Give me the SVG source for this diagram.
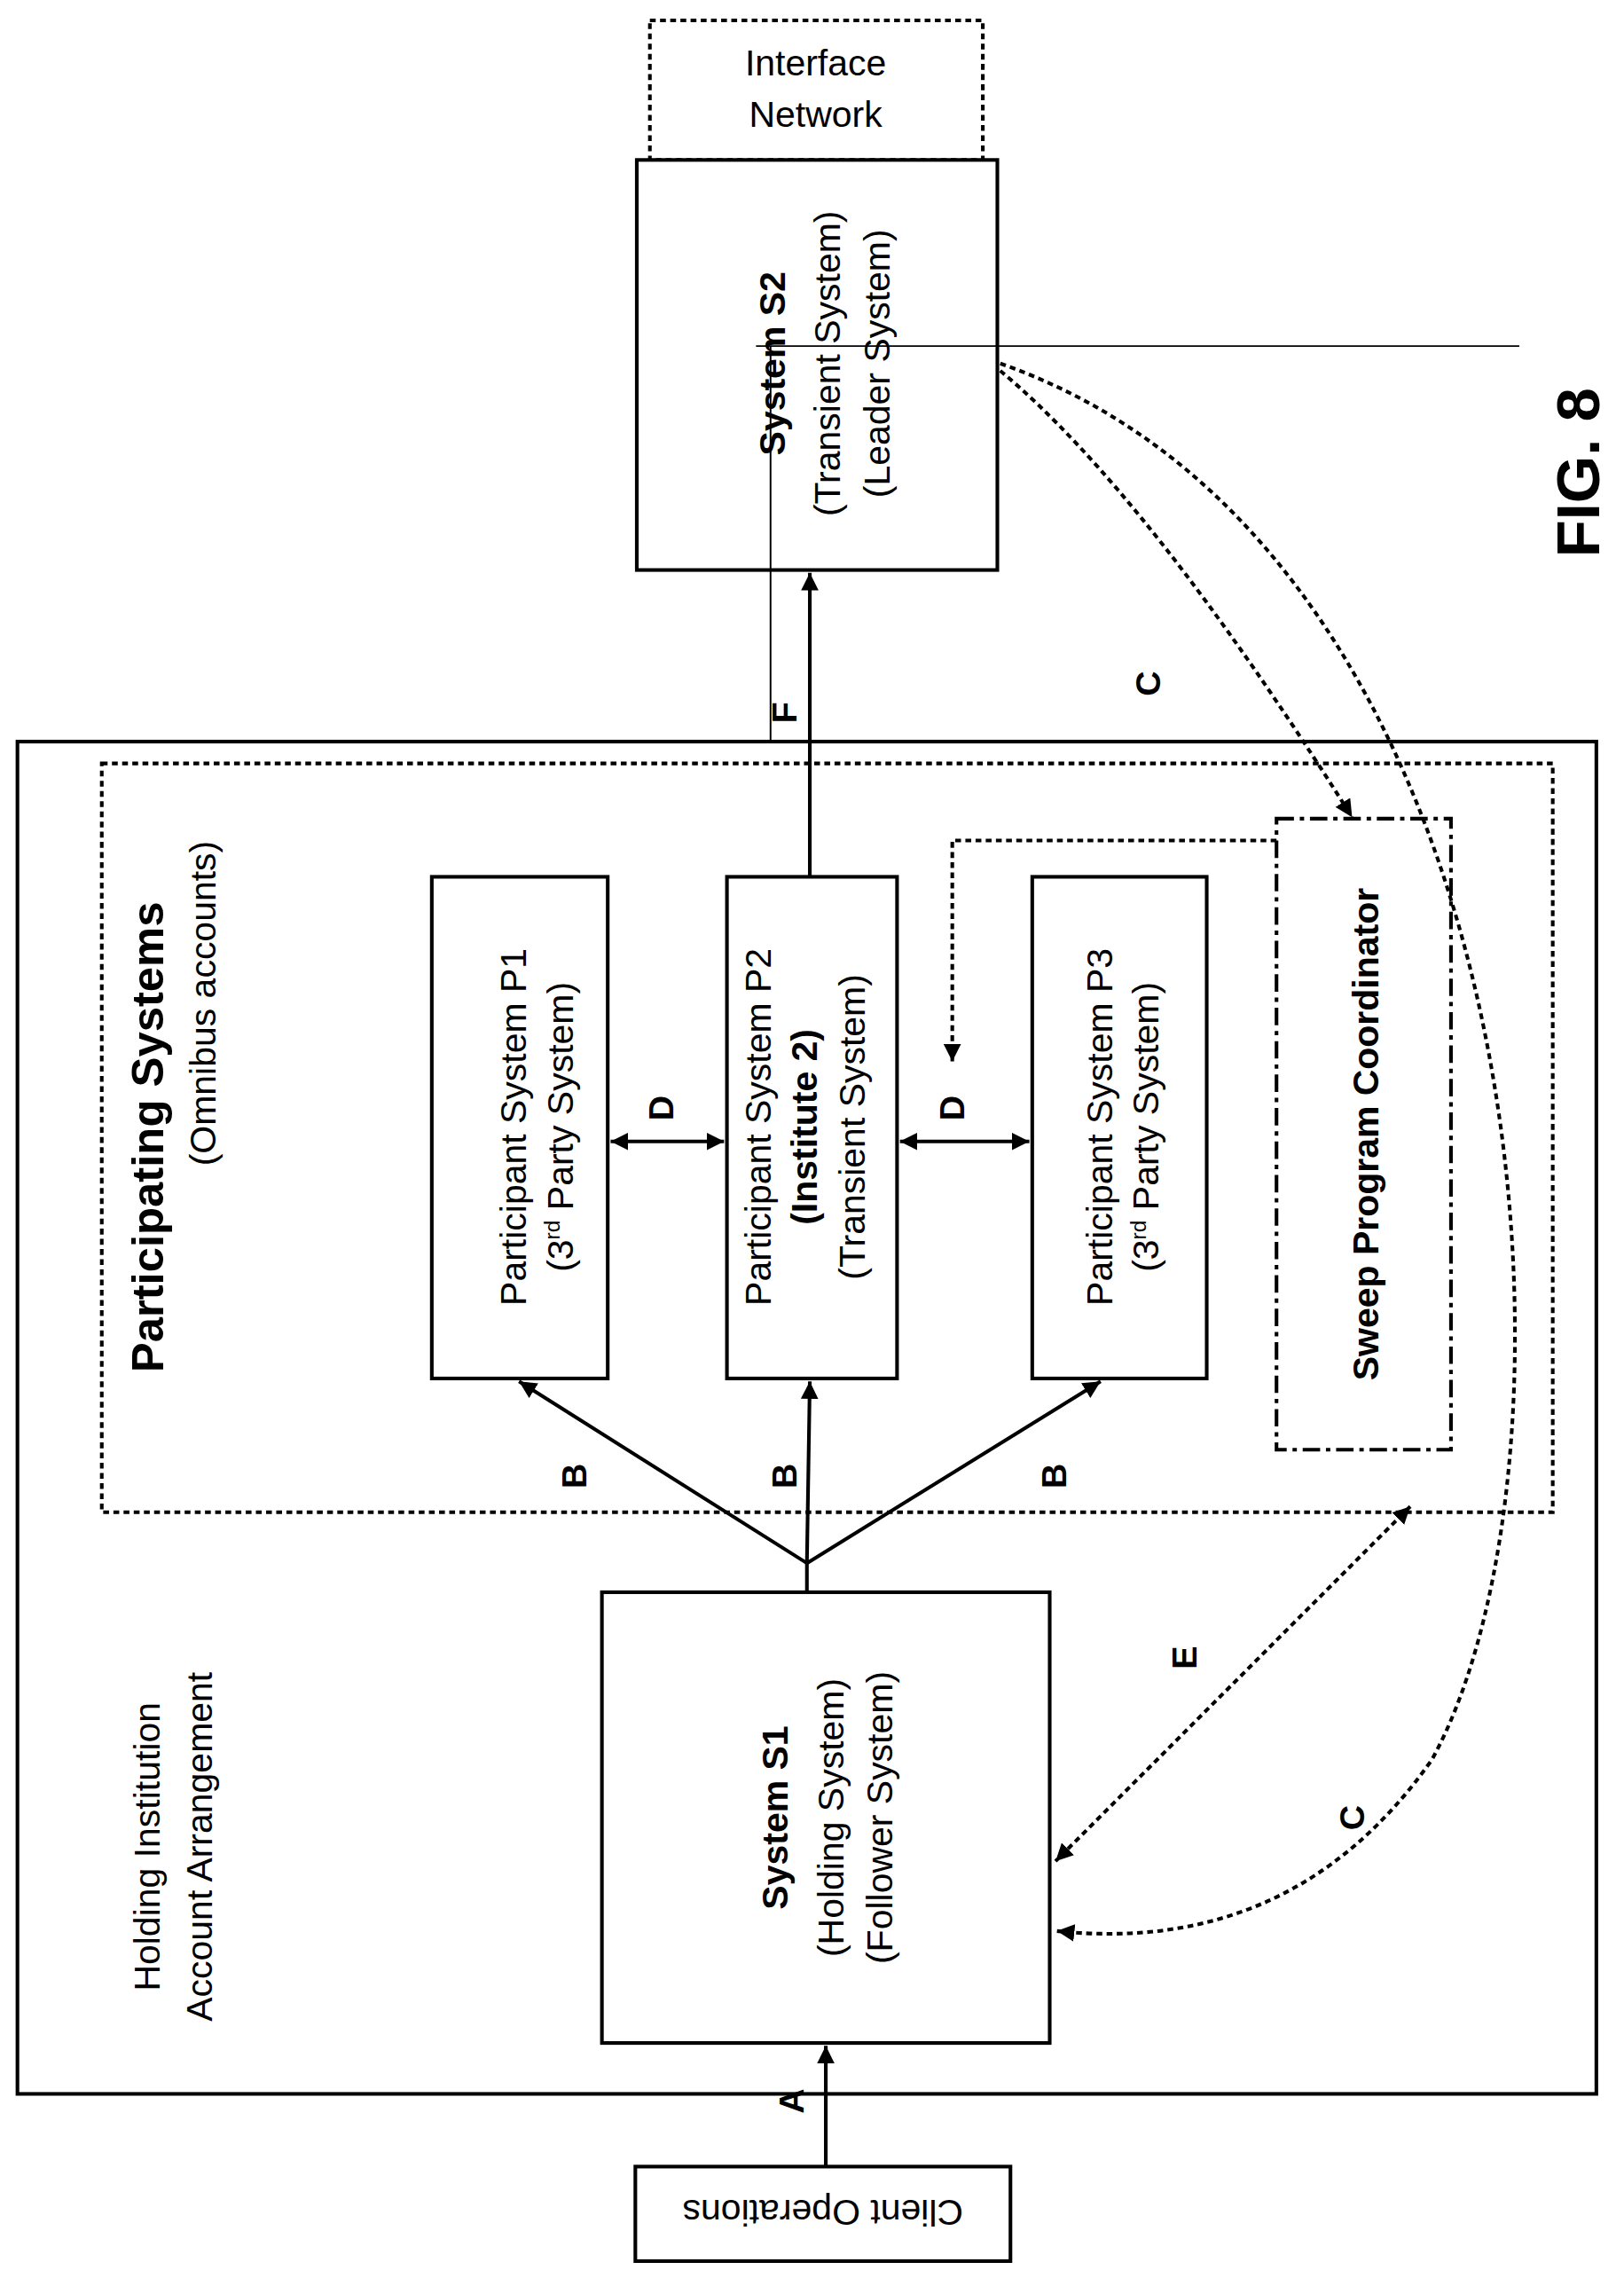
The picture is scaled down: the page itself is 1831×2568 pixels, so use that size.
<svg xmlns="http://www.w3.org/2000/svg" width="1831" height="2568" viewBox="0 0 1831 2568">
<defs>
<style>
text{font-family:"Liberation Sans",Arial,sans-serif;fill:#000}
.t{font-size:25px}
.b{font-weight:bold}
.box{fill:#fff;stroke:#000;stroke-width:2.5}
.ln{fill:none;stroke:#000;stroke-width:2.5}
.dot{fill:none;stroke:#000;stroke-width:2.5;stroke-dasharray:4 3}
</style>
<marker id="ah" viewBox="0 0 10 10" refX="10" refY="5" markerWidth="12" markerHeight="12" markerUnits="userSpaceOnUse" orient="auto-start-reverse"><path d="M0,0L10,5L0,10z" fill="#000"/></marker>
</defs>
<rect width="1831" height="2568" fill="#fff"/>
<g transform="scale(1.6392)">
<g id="outer"><rect x="12" y="510" width="1086" height="930" class="box" fill="none"/></g>
<g id="participating"><rect x="70" y="525" width="998" height="515" class="dot" stroke-dasharray="5 3"/>
<text class="b" font-size="31" transform="translate(112,782) rotate(-90)" text-anchor="middle">Participating Systems</text>
<text class="t" transform="translate(148,690) rotate(-90)" text-anchor="middle">(Omnibus accounts)</text></g>
<g id="holding"><text class="t" transform="translate(110,1270) rotate(-90)" text-anchor="middle">Holding Institution</text>
<text class="t" transform="translate(146,1270) rotate(-90)" text-anchor="middle">Account Arrangement</text></g>
<g id="iface"><rect x="447" y="14" width="229" height="96" class="dot" stroke-dasharray="5 3"/>
<text class="t" x="561" y="52" text-anchor="middle">Interface</text><text class="t" x="561" y="87" text-anchor="middle">Network</text></g>
<g id="s2"><rect x="438" y="110" width="248" height="282" class="box"/>
<text class="t b" transform="translate(540,250) rotate(-90)" text-anchor="middle">System S2</text>
<text class="t" transform="translate(578,250) rotate(-90)" text-anchor="middle">(Transient System)</text>
<text class="t" transform="translate(612,250) rotate(-90)" text-anchor="middle">(Leader System)</text></g>
<g id="p1"><rect x="297" y="603" width="121" height="345" class="box"/>
<text class="t" transform="translate(362,775) rotate(-90)" text-anchor="middle">Participant System P1</text>
<text class="t" transform="translate(394,775) rotate(-90)" text-anchor="middle">(3<tspan font-size="15" dy="-9">rd</tspan><tspan dy="9"> Party System)</tspan></text></g>
<g id="p2"><rect x="500" y="603" width="117" height="345" class="box"/>
<text class="t" transform="translate(530,775) rotate(-90)" text-anchor="middle">Participant System P2</text>
<text class="t b" transform="translate(562,775) rotate(-90)" text-anchor="middle">(Institute 2)</text>
<text class="t" transform="translate(595,775) rotate(-90)" text-anchor="middle">(Transient System)</text></g>
<g id="p3"><rect x="710" y="603" width="120" height="345" class="box"/>
<text class="t" transform="translate(765,775) rotate(-90)" text-anchor="middle">Participant System P3</text>
<text class="t" transform="translate(797,775) rotate(-90)" text-anchor="middle">(3<tspan font-size="15" dy="-9">rd</tspan><tspan dy="9"> Party System)</tspan></text></g>
<g id="sweep"><rect x="878" y="563" width="120" height="434" class="ln" stroke-dasharray="12 4 3 4"/>
<text class="t b" transform="translate(948,780) rotate(-90)" text-anchor="middle">Sweep Program Coordinator</text></g>
<g id="s1"><rect x="414" y="1095" width="308" height="310" class="box"/>
<text class="t b" transform="translate(542,1250) rotate(-90)" text-anchor="middle">System S1</text>
<text class="t" transform="translate(580,1250) rotate(-90)" text-anchor="middle">(Holding System)</text>
<text class="t" transform="translate(614,1250) rotate(-90)" text-anchor="middle">(Follower System)</text></g>
<g id="client"><rect x="437" y="1490" width="258" height="65" class="box"/>
<text class="t" transform="translate(566,1513) rotate(180)" text-anchor="middle">Client Operations</text></g>
<g id="connectors">
<line x1="568" y1="1490" x2="568" y2="1407" class="ln" marker-end="url(#ah)"/>
<polyline points="555,1095 555,1075" class="ln"/>
<line x1="555" y1="1075" x2="357" y2="950" class="ln" marker-end="url(#ah)"/>
<line x1="555" y1="1075" x2="557" y2="950" class="ln" marker-end="url(#ah)"/>
<line x1="555" y1="1075" x2="757" y2="950" class="ln" marker-end="url(#ah)"/>
<line x1="557" y1="603" x2="557" y2="394" class="ln" marker-end="url(#ah)"/>
<line x1="420" y1="785" x2="498" y2="785" class="ln" marker-start="url(#ah)" marker-end="url(#ah)"/>
<line x1="619" y1="785" x2="708" y2="785" class="ln" marker-start="url(#ah)" marker-end="url(#ah)"/>
<line x1="520" y1="238" x2="1045" y2="238" stroke="#000" stroke-width="1.2"/>
<line x1="530" y1="238" x2="530" y2="510" stroke="#000" stroke-width="1.2"/>
<polyline points="878,578 655,578 655,730" class="dot" marker-end="url(#ah)"/>
<path d="M688,255 Q790,340 930,562" class="dot" marker-end="url(#ah)"/>
<path d="M688,250 C1060,380 1100,1000 985,1210 Q890,1345 727,1328" class="dot" marker-end="url(#ah)"/>
<line x1="970" y1="1036" x2="726" y2="1280" class="dot" marker-start="url(#ah)" marker-end="url(#ah)"/>
</g>
<g id="labels" font-size="24" font-weight="bold">
<text transform="translate(553,1445) rotate(-90)" text-anchor="middle">A</text>
<text transform="translate(403,1015) rotate(-90)" text-anchor="middle">B</text>
<text transform="translate(548,1015) rotate(-90)" text-anchor="middle">B</text>
<text transform="translate(733,1015) rotate(-90)" text-anchor="middle">B</text>
<text transform="translate(463,762) rotate(-90)" text-anchor="middle">D</text>
<text transform="translate(663,762) rotate(-90)" text-anchor="middle">D</text>
<text transform="translate(798,470) rotate(-90)" text-anchor="middle">C</text>
<text transform="translate(938,1250) rotate(-90)" text-anchor="middle">C</text>
<text transform="translate(823,1140) rotate(-90)" text-anchor="middle">E</text>
<text transform="translate(548,490) rotate(-90)" text-anchor="middle">F</text>
<text font-size="42" transform="translate(1100,325) rotate(-90)" text-anchor="middle">FIG. 8</text>
</g>
</g>
</svg>
